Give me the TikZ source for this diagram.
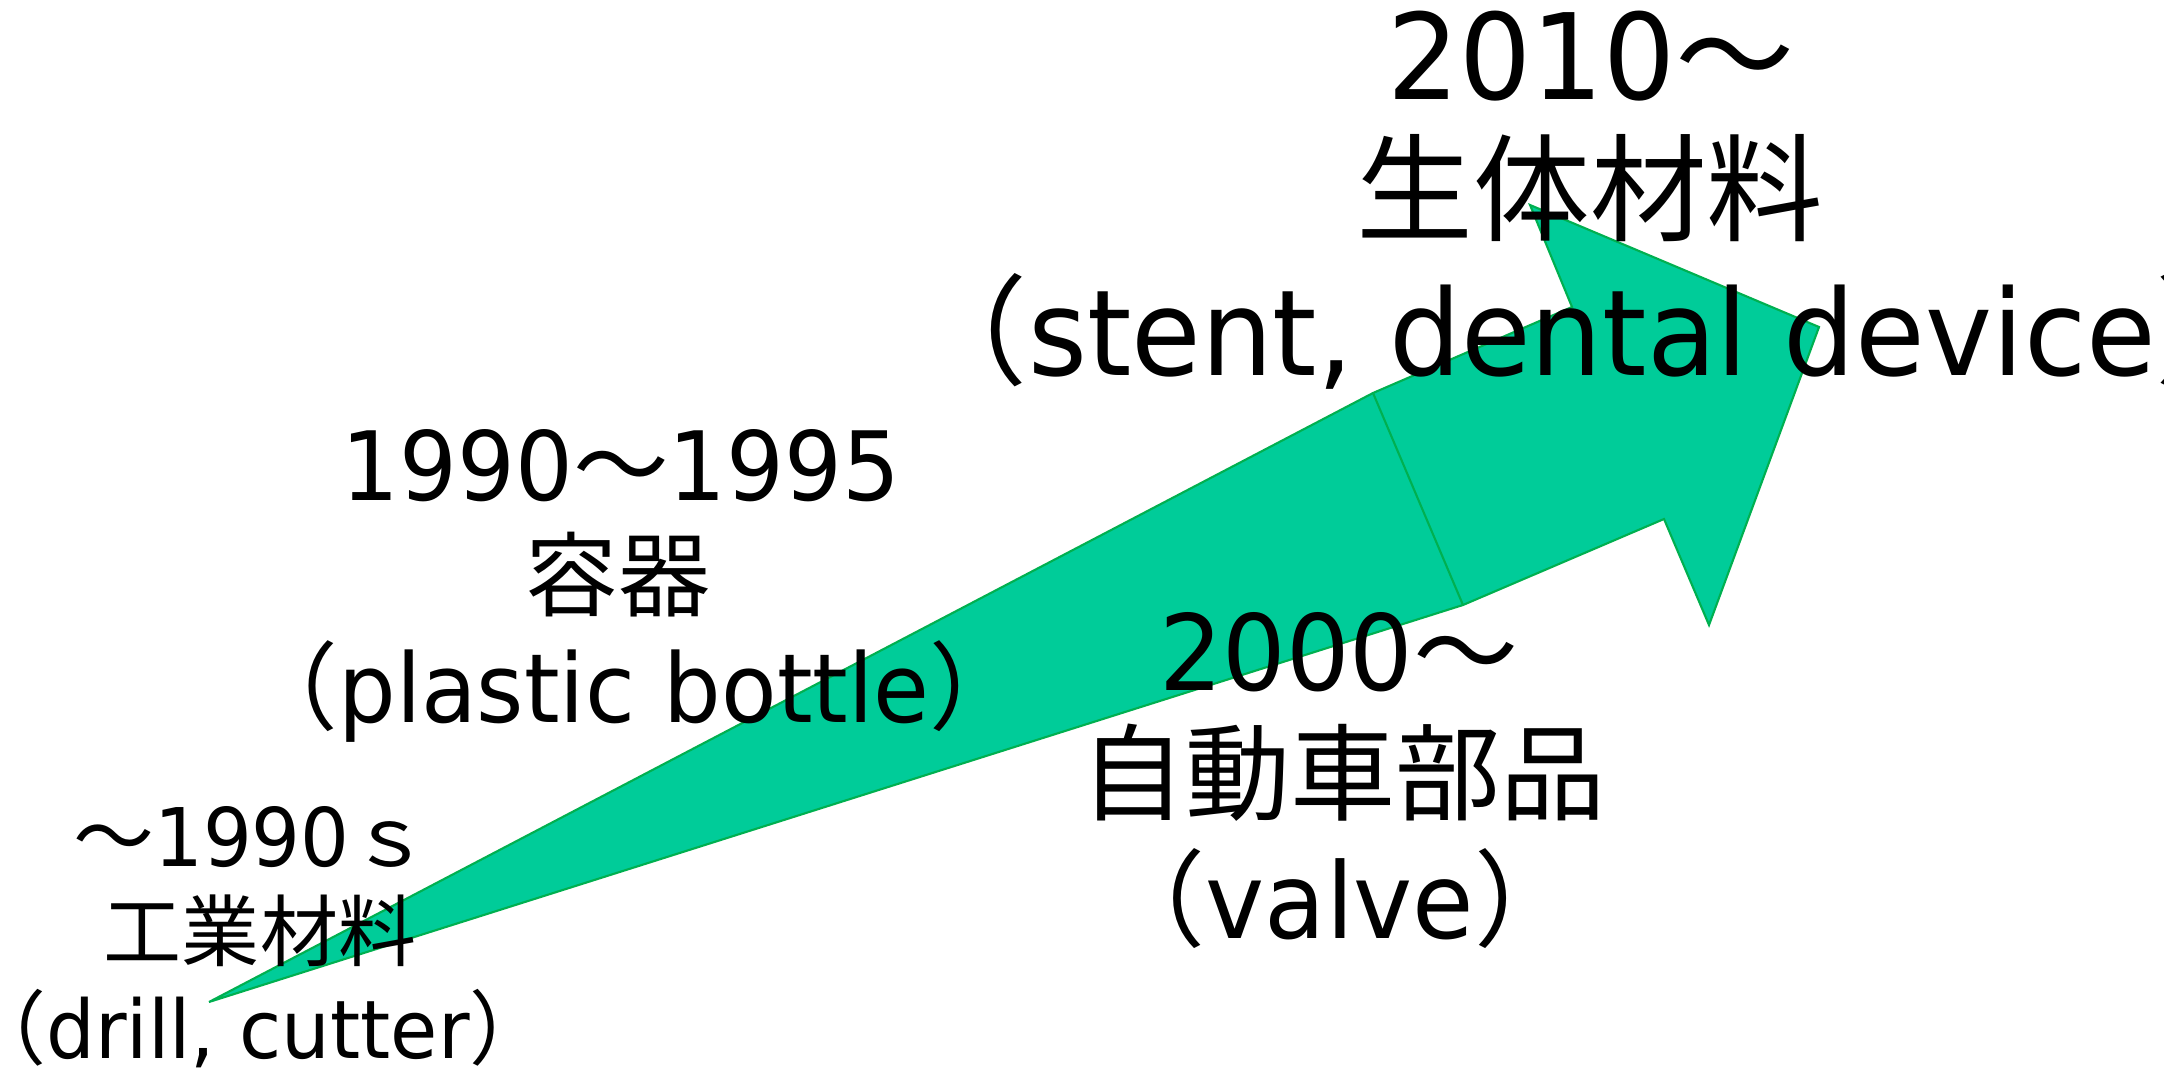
\documentclass[tikz,border=0pt]{standalone}
\usepackage{fontspec}
\setmainfont{DejaVu Sans}[FakeStretch=0.95]
\newfontfamily\jp{Noto Sans CJK JP}
\definecolor{arrowgreen}{RGB}{0,204,153}
\definecolor{edgegreen}{RGB}{0,176,80}
\tikzset{
  lbl/.style={anchor=base, inner sep=0pt, outer sep=0pt, text=black},
  gA/.style={lbl, font=\fontsize{23}{27}\selectfont},
  kA/.style={lbl, font=\fontsize{22.2}{26}\jp},
  gB/.style={lbl, font=\fontsize{27.2}{32}\selectfont},
  kB/.style={lbl, font=\fontsize{26.2}{31}\jp},
  gC/.style={lbl, font=\fontsize{29.9}{36}\selectfont},
  kC/.style={lbl, font=\fontsize{29.9}{36}\jp},
  gD/.style={lbl, font=\fontsize{33.9}{40}\selectfont},
  kD/.style={lbl, font=\fontsize{33.2}{40}\jp},
  arrowbody/.style={fill=arrowgreen, draw=edgegreen, line width=0.6pt, line join=miter},
  seam/.style={draw=edgegreen, line width=0.6pt}
}
\begin{document}
\begin{tikzpicture}[x=0.01cm, y=-0.01cm]
\useasboundingbox (0,0) rectangle (2164,1070);
\fill[white] (0,0) rectangle (2164,1070);
% arrow outline points
\coordinate (T)  at (209,1002);
\coordinate (U1) at (1373,393);
\coordinate (U2) at (1572,307);
\coordinate (B1) at (1530,205);
\coordinate (P)  at (1819,327);
\coordinate (B2) at (1709,625);
\coordinate (L2) at (1664,519);
\coordinate (L1) at (1463,605);
\path[arrowbody] (T) -- (U1) -- (U2) -- (B1) -- (P) -- (B2) -- (L2) -- (L1) -- cycle;
\draw[seam] (U1) -- (L1);
% group 1
\node[gA] (a1) at (252,866) {{\jp ～}1990{\jp ｓ}};
\node[kA] (a2) at (260,960) {工業材料};
\node[gA] (a3) at (258,1058) {{\jp （}drill, cutter{\jp ）}};
% group 2
\node[gB] (b1) at (621,500) {1990{\jp ～}1995};
\node[kB] (b2) at (618,609) {容器};
\node[gB] (b3) at (634,722) {{\jp （}plastic bottle{\jp ）}};
% group 3
\node[gC] (c1) at (1339,690) {2000{\jp ～}};
\node[kC] (c2) at (1343,812) {自動車部品};
\node[gC] (c3) at (1340,938) {{\jp （}valve{\jp ）}};
% group 4
\node[gD] (d1) at (1591,100) {2010{\jp ～}};
\node[kD] (d2) at (1590,232) {生体材料};
\node[gD] (d3) at (1592,375) {{\jp （}stent, dental device{\jp ）}};
\end{tikzpicture}
\end{document}
